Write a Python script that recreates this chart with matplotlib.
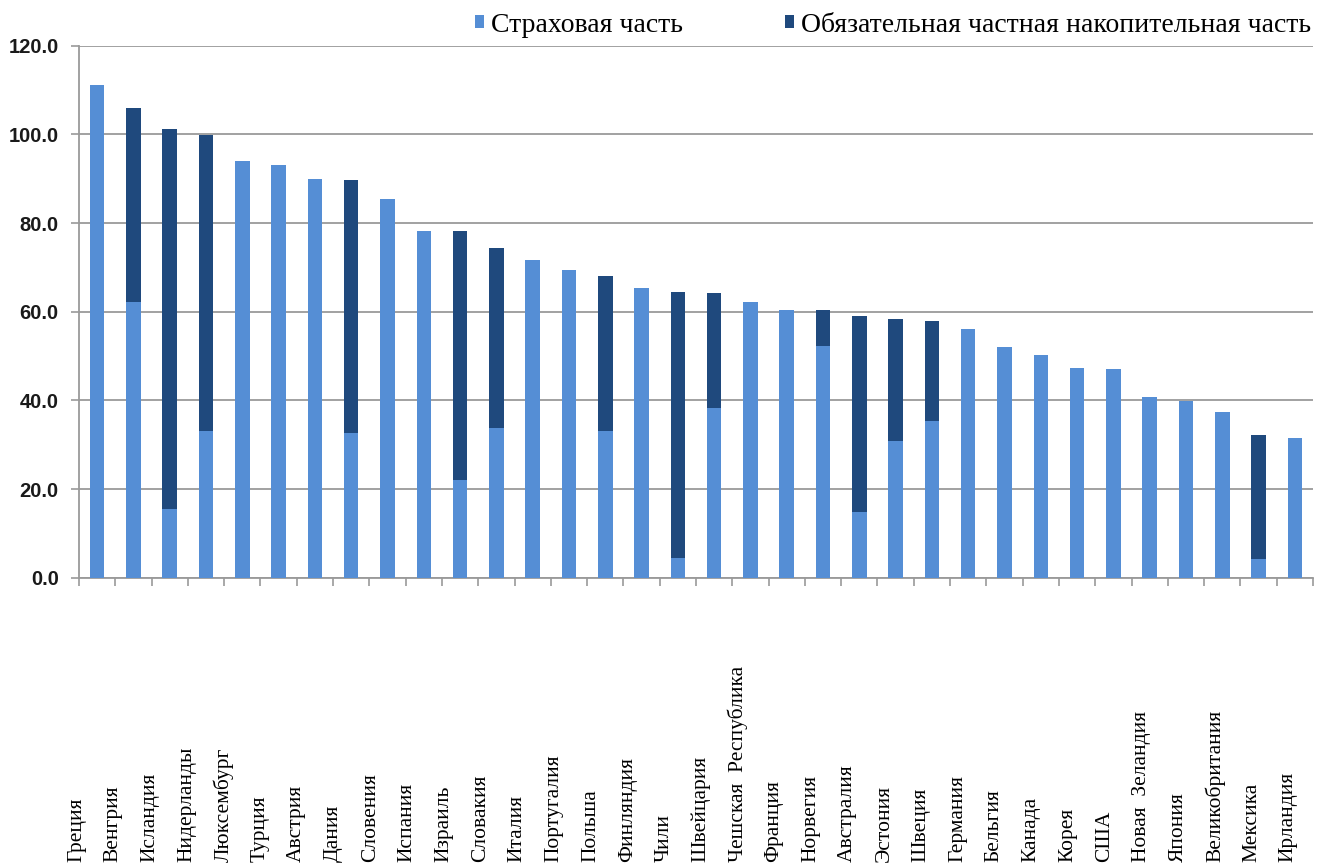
import matplotlib
matplotlib.use('Agg')
import matplotlib.pyplot as plt
import numpy as np
from matplotlib.transforms import blended_transform_factory

countries = ['Греция', 'Венгрия', 'Исландия', 'Нидерланды', 'Люксембург', 'Турция',
             'Австрия', 'Дания', 'Словения', 'Испания', 'Израиль', 'Словакия',
             'Италия', 'Португалия', 'Польша', 'Финляндия', 'Чили', 'Швейцария',
             'Чешская  Республика', 'Франция', 'Норвегия', 'Австралия', 'Эстония',
             'Швеция', 'Германия', 'Бельгия', 'Канада', 'Корея', 'США',
             'Новая  Зеландия', 'Япония', 'Великобритания', 'Мексика', 'Ирландия']

# страховая часть
insurance = [111.1, 62.1, 15.6, 33.2, 93.9, 93.1, 89.9, 32.6, 85.4, 78.2, 22.0, 33.7,
             71.6, 69.3, 33.2, 65.3, 4.4, 38.3, 62.1, 60.4, 52.3, 14.8, 30.8,
             35.4, 56.0, 52.0, 50.3, 47.4, 47.1, 40.8, 39.9, 37.4, 4.2, 31.4]
# итог (страховая + накопительная)
total = [111.1, 106.0, 101.1, 99.9, 93.9, 93.1, 89.9, 89.6, 85.4, 78.2, 78.2, 74.4,
         71.6, 69.3, 68.1, 65.3, 64.4, 64.2, 62.1, 60.4, 60.4, 59.0, 58.4,
         57.8, 56.0, 52.0, 50.3, 47.4, 47.1, 40.8, 39.9, 37.4, 32.2, 31.4]
funded = [round(t - s, 1) for t, s in zip(total, insurance)]

c_light = '#558ed5'
c_dark = '#1f497d'

fig = plt.figure(figsize=(13.23, 8.66), dpi=100)
ax = fig.add_axes([79/1323, 1-577.7/866, (1313-79)/1323, (577.7-45.7)/866])

x = np.arange(len(countries))
ax.bar(x, insurance, width=0.4, color=c_light, label='Страховая часть', zorder=3)
ax.bar(x, funded, width=0.4, bottom=insurance, color=c_dark,
       label='Обязательная частная накопительная часть', zorder=3)

ax.set_xlim(-0.5, len(countries) - 0.5)
ax.set_ylim(0, 120)
ax.set_yticks(np.arange(0, 121, 20))
ax.set_yticklabels(['%.1f' % v for v in np.arange(0, 121, 20)],
                   fontfamily='Liberation Sans', fontweight='bold', fontsize=14.5,
                   color='#1a1a1a')
ax.yaxis.grid(True, color='#9a9a9a', linewidth=1.3, zorder=0)
ax.set_xticks(np.arange(-0.5, len(countries), 1.0))
ax.set_xticklabels([])
ax.tick_params(axis='both', direction='out', length=6, color='#9a9a9a', width=1.2)
ax.tick_params(axis='y', pad=8.5)
for s in ['top', 'right']:
    ax.spines[s].set_visible(False)
for s in ['left', 'bottom']:
    ax.spines[s].set_color('#9a9a9a')
    ax.spines[s].set_linewidth(1.3)

# подписи стран, выровненные по низу рисунка
tr = blended_transform_factory(ax.transData, fig.transFigure)
for i, name in enumerate(countries):
    ax.text(i * 1.0117 - 0.57, 4/866, name, rotation=90, ha='center', va='bottom',
            fontfamily='Liberation Serif', fontsize=15.5, transform=tr, clip_on=False)

fig.legend(loc='center right', bbox_to_anchor=(1322/1323, 1-25/866), ncol=2,
           frameon=False, prop={'family': 'Liberation Serif', 'size': 20},
           handlelength=0.3, handleheight=0.3, handletextpad=0.25,
           columnspacing=3.7, borderaxespad=0)

plt.savefig('out.png', dpi=100)
